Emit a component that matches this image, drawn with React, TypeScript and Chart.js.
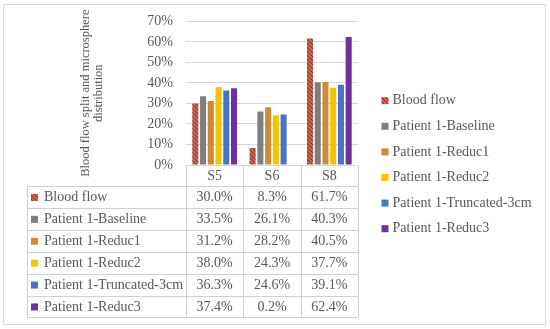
import { useEffect, useRef } from 'react';
import { Chart, registerables } from 'chart.js';

Chart.register(...registerables);

const categories = ['S5', 'S6', 'S8'];
const seriesNames = [
  'Blood flow',
  'Patient 1-Baseline',
  'Patient 1-Reduc1',
  'Patient 1-Reduc2',
  'Patient 1-Truncated-3cm',
  'Patient 1-Reduc3',
];
const bloodFlow = [30.0, 8.3, 61.7];
const baseline = [33.5, 26.1, 40.3];
const reduc1 = [31.2, 28.2, 40.5];
const reduc2 = [38.0, 24.3, 37.7];
const truncated = [36.3, 24.6, 39.1];
const reduc3 = [37.4, 0.2, 62.4];
const yTickStep = 10;
const yMax = 70;
const yTitle = ['Blood flow split and microsphere', 'distribution'];

const FONT = "'Liberation Serif', serif";
const TEXT = '#595959';
const LINE = '#d9d9d9';

function makeHatch(): CanvasPattern | string {
  const c = document.createElement('canvas');
  c.width = 4;
  c.height = 4;
  const g = c.getContext('2d');
  if (!g) return '#d9534f';
  g.fillStyle = '#e8625c';
  g.fillRect(0, 0, 4, 4);
  g.strokeStyle = '#7a3a28';
  g.lineWidth = 1.1;
  g.beginPath();
  g.moveTo(-1, -1);
  g.lineTo(5, 5);
  g.moveTo(-1, 3);
  g.lineTo(1, 5);
  g.moveTo(3, -1);
  g.lineTo(5, 1);
  g.stroke();
  const p = g.createPattern(c, 'repeat');
  return p || '#d9534f';
}

export default function App() {
  const ref = useRef<HTMLCanvasElement | null>(null);

  useEffect(() => {
    const canvas = ref.current;
    if (!canvas) return;
    const hatch = makeHatch();
    const seriesValues = [bloodFlow, baseline, reduc1, reduc2, truncated, reduc3];
    const colors: (string | CanvasPattern)[] = [hatch, '#7f7f7f', '#cf8a35', '#f2c500', '#4a72c8', '#7030a0'];

    const tablePlugin = {
      id: 'tableAndLegend',
      afterDraw(chart: any) {
        const ctx: CanvasRenderingContext2D = chart.ctx;
        const xs = chart.scales.x;
        const area = chart.chartArea;
        const colW = (area.right - area.left) / categories.length;
        const tableLeft = 27;
        const headerTop = area.bottom;
        const headerH = 21;
        const rowH = 21.9;
        const rowsTop = headerTop + headerH;
        const tableBottom = rowsTop + rowH * seriesNames.length;
        ctx.save();
        ctx.strokeStyle = LINE;
        ctx.lineWidth = 1;
        ctx.strokeRect(3.5, 4.5, 542, 320);
        ctx.strokeStyle = '#d0d0d0';
        ctx.beginPath();
        for (let i = 0; i <= categories.length; i++) {
          const x = Math.round(area.left + colW * i) + 0.5;
          ctx.moveTo(x, headerTop);
          ctx.lineTo(x, tableBottom);
        }
        ctx.moveTo(tableLeft + 0.5, rowsTop);
        ctx.lineTo(tableLeft + 0.5, tableBottom);
        for (let r = 0; r <= seriesNames.length; r++) {
          const y = Math.round(rowsTop + rowH * r) + 0.5;
          ctx.moveTo(tableLeft, y);
          ctx.lineTo(area.right, y);
        }
        ctx.stroke();
        ctx.font = `14px ${FONT}`;
        ctx.textBaseline = 'middle';
        for (let r = 0; r < seriesNames.length; r++) {
          const cy = rowsTop + rowH * r + rowH / 2 + 0.5;
          ctx.fillStyle = colors[r] as any;
          ctx.fillRect(tableLeft + 4, cy - 3.5, 7, 7);
          ctx.fillStyle = TEXT;
          ctx.textAlign = 'left';
          ctx.fillText(seriesNames[r], tableLeft + 17, cy);
          ctx.textAlign = 'center';
          for (let c = 0; c < categories.length; c++) {
            const cx = xs.getPixelForValue(c);
            ctx.fillText(seriesValues[r][c].toFixed(1) + '%', cx, cy);
          }
        }
        const lx = 381.5;
        for (let r = 0; r < seriesNames.length; r++) {
          const cy = 100.7 + 25.6 * r;
          ctx.fillStyle = colors[r] as any;
          ctx.fillRect(lx, cy - 3.5, 7, 7);
          ctx.fillStyle = TEXT;
          ctx.textAlign = 'left';
          ctx.fillText(seriesNames[r], lx + 11, cy);
        }
        ctx.restore();
      },
    };

    const chart = new Chart(canvas, {
      type: 'bar',
      data: {
        labels: categories,
        datasets: seriesNames.map((name, i) => ({
          label: name,
          data: seriesValues[i],
          backgroundColor: colors[i] as any,
          borderWidth: 0,
          categoryPercentage: 0.81,
          barPercentage: 0.78,
        })),
      },
      options: {
        responsive: false,
        animation: false,
        devicePixelRatio: 1,
        layout: { padding: { left: 75, right: 192, top: 20, bottom: 0 } },
        plugins: {
          legend: { display: false },
          tooltip: { enabled: false },
        },
        scales: {
          x: {
            grid: { display: false, drawTicks: false },
            border: { display: false },
            ticks: {
              color: TEXT,
              font: { family: FONT, size: 14 },
              padding: 3,
            },
            afterFit(scale: any) {
              scale.height = 164;
            },
          },
          y: {
            min: 0,
            max: yMax,
            grid: { color: LINE, drawTicks: false },
            border: { display: false },
            ticks: {
              stepSize: yTickStep,
              color: TEXT,
              font: { family: FONT, size: 14 },
              padding: 13,
              callback: (v: any) => v + '%',
            },
            title: {
              display: true,
              text: yTitle,
              color: TEXT,
              font: { family: FONT, size: 12.5, lineHeight: 1.05 },
              padding: { top: 4, bottom: 0 },
            },
            afterFit(scale: any) {
              scale.width = 111;
            },
          },
        },
      },
      plugins: [tablePlugin],
    });
    return () => chart.destroy();
  }, []);

  return (
    <div style={{ position: 'fixed', left: 0, top: 0, width: 550, height: 329, background: '#fff' }}>
      <canvas ref={ref} width={550} height={329} style={{ display: 'block' }} />
    </div>
  );
}
